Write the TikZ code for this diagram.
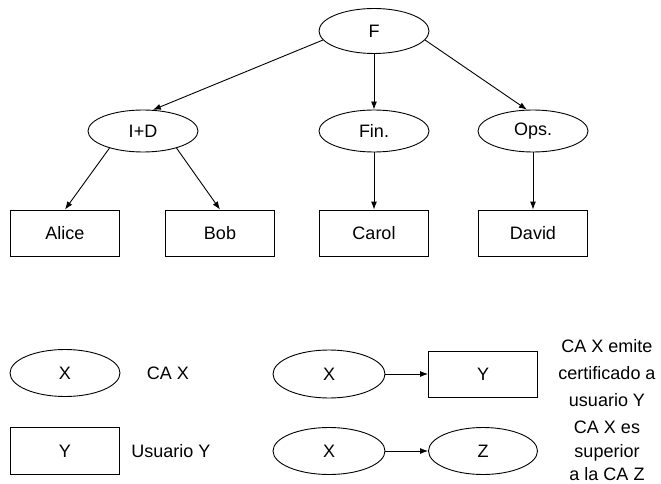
\documentclass[tikz,border=0pt]{standalone}
\usepackage{fontspec}
\setmainfont{Liberation Sans}
\usetikzlibrary{shapes.geometric,arrows.meta}
\tikzset{
  ca/.style={draw, ellipse, line width=0.9pt, inner sep=0pt,
             minimum width=110, minimum height=45},
  user/.style={draw, rectangle, line width=0.9pt, inner sep=0pt,
             minimum width=109, minimum height=46},
  note/.style={align=center, inner sep=0pt},
  link/.style={line width=0.9pt, -{Latex[length=8pt,width=6pt]}}
}
\begin{document}
\begin{tikzpicture}[x=1pt, y=-1pt, font=\fontsize{18}{27}\selectfont]
                    \useasboundingbox (0,0) rectangle (661,484);
                    {

                    % Drawing the CA tree
                    \node [ca] (F) at (374,31) {F};%
                    \node [ca, minimum height=42] (ID) at (143,131) {I+D};%
                    \node [ca, minimum height=42] (Fin) at (374,131) {Fin.};%
                    \node [ca, minimum height=42] (Ops) at (533,131) {Ops.};%

                    % Drawing the users
                    \node [user] (Alice) at (65,233) {Alice};%
                    \node [user] (Bob) at (220,233) {Bob};%
                    \node [user] (Carol) at (374,233) {Carol};%
                    \node [user] (David) at (533,233) {David};%

                    % Arrows of the tree
                    \draw [link] (F.190) -- (ID.65);%
                    \draw [link] (F.south) -- (Fin.north);%
                    \draw [link] (F.-10) -- (Ops.106);%
                    \draw [link] (ID.207) -- (Alice.north);%
                    \draw [link] (ID.-27) -- (Bob.north);%
                    \draw [link] (Fin.south) -- (Carol.north);%
                    \draw [link] (Ops.south) -- (David.north);%

                    % Legend, left column
                    \node [ca, minimum height=47] (lgX) at (65,373) {X};%
                    \node [note] (lgXtxt) at (168,373) {CA X};%
                    \node [user, minimum height=47] (lgY) at (65,451) {Y};%
                    \node [note] (lgYtxt) at (171,451) {Usuario Y};%

                    % Legend, right column
                    \node [ca, minimum width=112, minimum height=48] (emX) at (329,374) {X};%
                    \node [user] (emY) at (483,374) {Y};%
                    \draw [link] (emX.east) -- (emY.west);%
                    \node [note] (emtxt) at (607,373) {CA X emite\\certificado a\\usuario Y};%

                    \node [ca, minimum width=112, minimum height=47] (supX) at (329,451) {X};%
                    \node [ca, minimum width=109, minimum height=47] (supZ) at (483,451) {Z};%
                    \draw [link] (supX.east) -- (supZ.west);%
                    \node [note, font=\fontsize{18}{23.5}\selectfont] (suptxt) at (607,451) {CA X es\\superior\\a la CA Z};%
                    }
                    \end{tikzpicture}
\end{document}
